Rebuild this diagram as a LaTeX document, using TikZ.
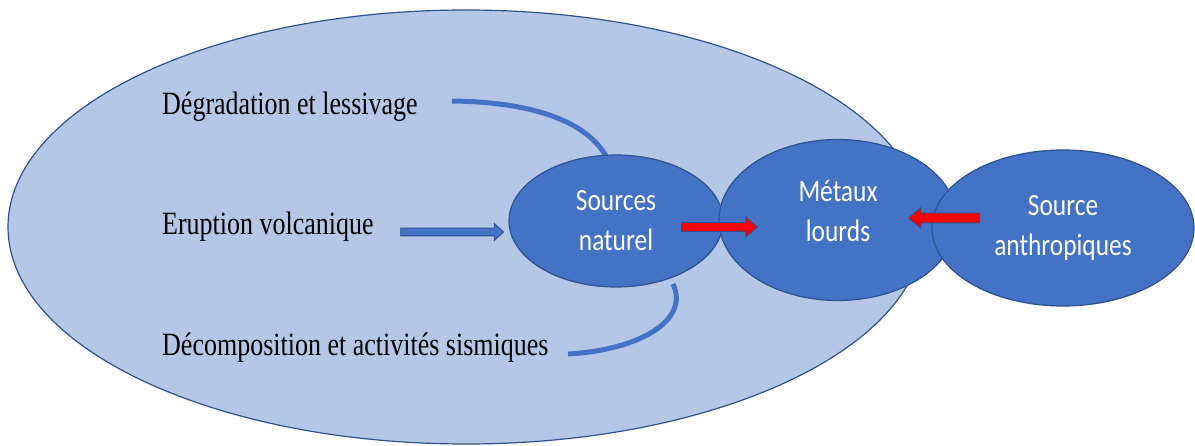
\documentclass[tikz,border=0pt]{standalone}
\usepackage{fontspec}
\newfontfamily\causefont[FakeStretch=0.8]{Liberation Serif}
\newfontfamily\blobfont[FakeStretch=0.82]{Carlito}
\usetikzlibrary{shapes.geometric,shapes.arrows}
\definecolor{accent}{HTML}{4472C4}
\definecolor{edge}{HTML}{2F528F}
\definecolor{pale}{HTML}{B4C7E7}
\definecolor{flow}{HTML}{FF0000}
\begin{document}
\begin{tikzpicture}[x=1pt,y=-1pt,
  blob/.style={ellipse, fill=accent, draw=edge, line width=1.2pt, inner sep=0pt,
    text=white, align=center, font=\blobfont\fontsize{31}{40}\selectfont},
  cause/.style={anchor=base west, inner sep=0pt, text=black,
    font=\causefont\fontsize{32.5}{38}\selectfont},
  link/.style={draw=accent, line width=5pt},
  blockarrow/.style={single arrow, draw=edge, line width=0.8pt, inner sep=0pt,
    minimum width=0pt},
  redarrow/.style={blockarrow, fill=flow},
  bluearrow/.style={blockarrow, fill=accent}
]
\useasboundingbox (0,0) rectangle (1195,446);
\fill[white] (0,0) rectangle (1195,446);

% natural environment
\node[ellipse, fill=pale, draw=edge, line width=1.2pt, minimum width=916pt,
  minimum height=434pt] (env) at (466,227) {};

% causes
\node[cause] (degr) at (162,115) {Dégradation et lessivage};
\node[cause] (erup) at (162,235) {Eruption volcanique};
\node[cause] (deco) at (162,356) {Décomposition et activités sismiques};

% linking curves
\coordinate (degrend) at (452,101);
\coordinate (natin) at (606,156);
\coordinate (natout) at (673,284);
\coordinate (decoend) at (568,354);
\draw[link] (degrend) .. controls (530,102) and (585,120) .. (natin);
\draw[link] (natout) .. controls (690,320) and (640,350) .. (decoend);

% sources and metals
\node[blob, minimum width=214pt, minimum height=132pt] (nat) at (616,221) {Sources\\naturel};
\node[blob, minimum width=238pt, minimum height=161pt, text depth=19pt] (met) at (838,220) {Métaux\\lourds};
\node[blob, minimum width=262pt, minimum height=156pt] (anth) at (1063,228) {Source\\anthropiques};

% block arrows
\node[bluearrow, inner ysep=3.5pt, single arrow head extend=4.5pt,
  single arrow tip angle=84, minimum height=103pt] (erupto) at (450,232) {};
\node[redarrow, inner ysep=4pt, single arrow head extend=5.5pt,
  single arrow tip angle=80, minimum height=76pt] (natmet) at (717,227) {};
\node[redarrow, inner ysep=4.5pt, single arrow head extend=5.5pt,
  single arrow tip angle=80, minimum height=71pt, shape border rotate=180] (anthmet) at (947,218) {};
\end{tikzpicture}
\end{document}
